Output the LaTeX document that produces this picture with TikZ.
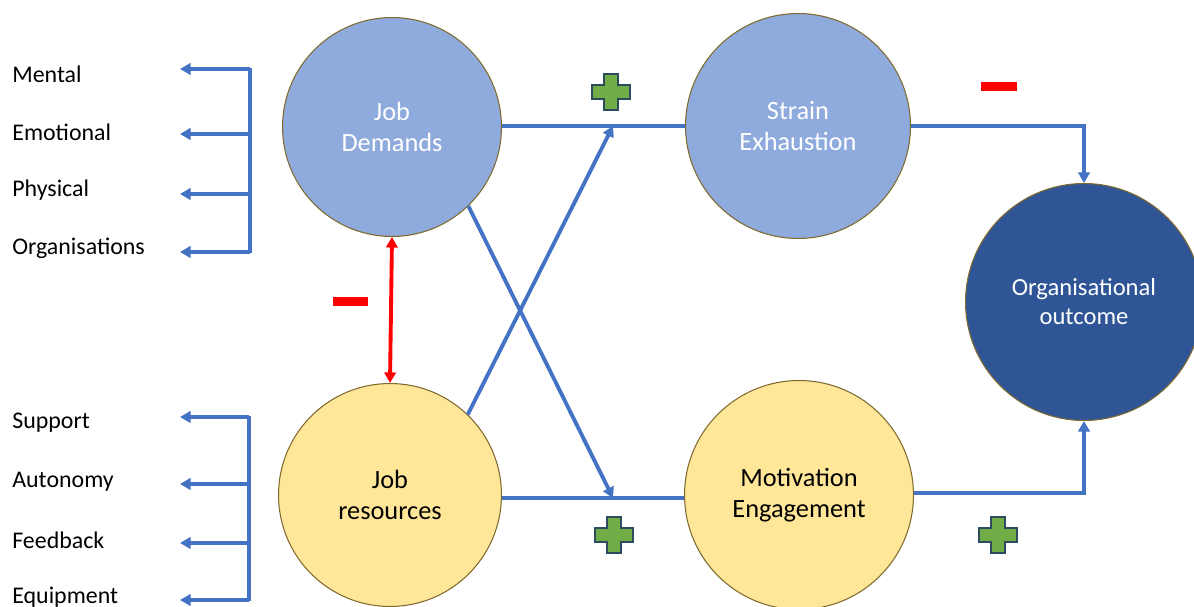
\documentclass[tikz,border=0pt]{standalone}
\usepackage{fontspec}
\setmainfont{Carlito}
\usetikzlibrary{arrows.meta}
\definecolor{lblue}{HTML}{8FAADC}
\definecolor{lyellow}{HTML}{FFE699}
\definecolor{dblue}{HTML}{2F5597}
\definecolor{lineblue}{HTML}{4472C4}
\definecolor{rim}{HTML}{7F6A2E}
\definecolor{pgreen}{HTML}{70AD47}
\definecolor{pgreenedge}{HTML}{2E4A5E}
\tikzset{
  bubble/.style={circle, draw=rim, line width=0.6pt, inner sep=0pt, align=center, font=\fontsize{15}{18}\selectfont},
  conn/.style={draw=lineblue, line width=2.2pt, -{Triangle[length=6pt,width=6.5pt]}},
  plain/.style={draw=lineblue, line width=2.2pt},
  lab/.style={anchor=west, inner sep=0pt, font=\fontsize{13.6}{16}\selectfont},
  minus/.style={fill=red, draw=none},
  plusbox/.style={fill=pgreen, draw=pgreenedge, line width=0.7pt}
}
\newcommand{\plusat}[2]{%
  \filldraw[plusbox] (#1-19,#2-7) -- (#1-7,#2-7) -- (#1-7,#2-18) -- (#1+7,#2-18) -- (#1+7,#2-7) -- (#1+19,#2-7) -- (#1+19,#2+7) -- (#1+7,#2+7) -- (#1+7,#2+18) -- (#1-7,#2+18) -- (#1-7,#2+7) -- (#1-19,#2+7) -- cycle;}
\begin{document}
\begin{tikzpicture}[x=0.02cm, y=-0.02cm]
\useasboundingbox (0,0) rectangle (1194,607);
\begin{scope}
\clip (0,0) rectangle (1194,607);
% circles
\node[bubble, fill=lblue, text=white, minimum size=4.38cm] (jd) at (392,127) {Job\\Demands};
\node[bubble, fill=lblue, text=white, minimum size=4.5cm] (se) at (798,126) {Strain\\Exhaustion};
\node[bubble, fill=lyellow, text=black, minimum size=4.46cm] (jr) at (390,495) {Job\\resources};
\node[bubble, fill=lyellow, text=black, minimum size=4.58cm] (me) at (799,495) {Motivation\\Engagement};
\node[bubble, fill=dblue, text=white, minimum size=4.74cm, font=\fontsize{14}{16.5}\selectfont] (oo) at (1084,302) {Organisational\\outcome};

% junction coordinates
\coordinate (jtop) at (613,126);
\coordinate (jbot) at (613,498);

% horizontal connectors
\draw[plain] (jd.east |- jtop) -- (se.west |- jtop);
\draw[plain] (jr.east |- jbot) -- (me.west |- jbot);
% diagonal connectors
\draw[conn] (jr.46) -- (jtop);
\draw[conn] (jd.-46) -- (jbot);
% to outcome
\coordinate (ctop) at (1084,126);
\coordinate (cbot) at (1084,493);
\draw[conn] (se.east |- ctop) -- (ctop) -- (oo.north);
\draw[conn] (me.east |- cbot) -- (cbot) -- (oo.south);
% red double arrow
\draw[draw=red, line width=2.2pt, {Triangle[length=6pt,width=6.5pt]}-{Triangle[length=6pt,width=6.5pt]}] (jd.south) -- (jr.north);
\end{scope}

% left brackets
\coordinate (ut) at (250,68);
\coordinate (ub) at (250,253);
\draw[plain] (ut) -- (ub);
\foreach \yy/\nm in {69/a1,134/a2,194/a3,252/a4}{
  \coordinate (\nm) at (180,\yy);
  \draw[conn] (250,\yy) -- (\nm);
}
\coordinate (lt) at (249,416);
\coordinate (lb) at (249,601);
\draw[plain] (lt) -- (lb);
\foreach \yy/\nm in {417/b1,484/b2,543/b3,600/b4}{
  \coordinate (\nm) at (180,\yy);
  \draw[conn] (249,\yy) -- (\nm);
}

% labels
\node[lab] (l1) at (12,74) {Mental};
\node[lab] (l2) at (12,132) {Emotional};
\node[lab] (l3) at (12,190) {Physical};
\node[lab] (l4) at (12,248) {Organisations};
\node[lab] (l5) at (12,423) {Support};
\node[lab] (l6) at (12,482) {Autonomy};
\node[lab] (l7) at (12,540) {Feedback};
\node[lab] (l8) at (12,597) {Equipment};

% minus signs
\fill[minus] (333,297) rectangle (368,306);
\fill[minus] (981,82) rectangle (1017,91);
% plus signs
\plusat{611}{92}
\plusat{614}{535}
\plusat{998}{535}
\end{tikzpicture}
\end{document}
